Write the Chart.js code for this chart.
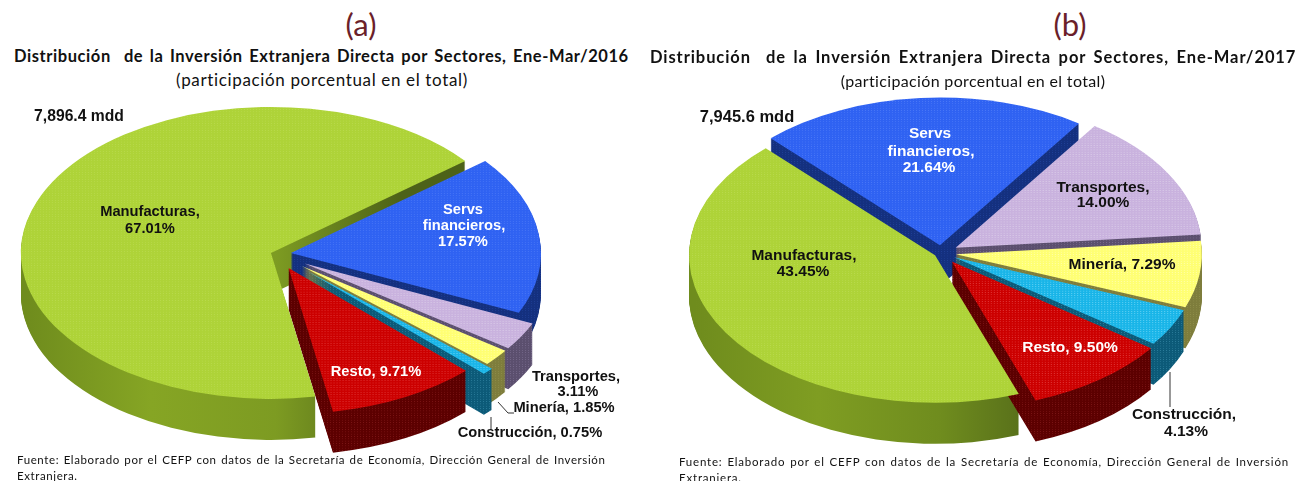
<!DOCTYPE html>
<html lang="es">
<head>
<meta charset="utf-8">
<title>Inversión Extranjera Directa por Sectores</title>
<script src="https://cdn.jsdelivr.net/npm/chart.js@4"></script>
<style>
    html, body { margin: 0; width: 1297px; height: 481px; overflow: hidden; background: #fff; }
    canvas { position: absolute; }
    div { position: absolute; white-space: nowrap; font-family: Lato, sans-serif; color: #111; }
    .panel { font-size: 31px; color: #6b1f2a; transform: translateX(-50%); }
    .title { font-weight: 700; font-size: 16.5px; }
    .sub { font-size: 17px; transform: translateX(-50%); }
    .note { font-size: 11.5px; line-height: 16px; }
</style>
</head>
<body>
<div class="panel" style="left:361px; top:5px">(a)</div>
<div class="title" style="left:14px; top:46px; letter-spacing:0.57px; word-spacing:2px">Distribución&nbsp; de la Inversión Extranjera Directa por Sectores, Ene-Mar/2016</div>
<div class="sub" style="left:322px; top:69px; letter-spacing:0.65px">(participación porcentual en el total)</div>
<canvas id="pieA" width="800" height="560" style="left:-124px; top:-26px"></canvas>
<div class="note" style="left:17px; top:452px; letter-spacing:0.6px; word-spacing:1px">Fuente: Elaborado por el CEFP con datos de la Secretaría de Economía, Dirección General de Inversión<br>Extranjera.</div>

<div class="panel" style="left:1070px; top:5px">(b)</div>
<div class="title" style="left:650px; top:47px; letter-spacing:0.92px; word-spacing:2.6px">Distribución&nbsp; de la Inversión Extranjera Directa por Sectores, Ene-Mar/2017</div>
<div class="sub" style="left:973px; top:71px; font-size:16px; letter-spacing:0.35px">(participación porcentual en el total)</div>
<canvas id="pieB" width="800" height="560" style="left:541px; top:-27px"></canvas>
<div class="note" style="left:679px; top:454px; letter-spacing:0.8px; word-spacing:1.1px">Fuente: Elaborado por el CEFP con datos de la Secretaría de Economía, Dirección General de Inversión<br>Extranjera.</div>

<script>
const sectors2016 = ['Servs financieros', 'Transportes', 'Minería', 'Construcción', 'Resto', 'Manufacturas'];
const shares2016 = [17.57, 3.11, 1.85, 0.75, 9.71, 67.01];
const sectors2017 = ['Servs financieros', 'Transportes', 'Minería', 'Construcción', 'Resto', 'Manufacturas'];
const shares2017 = [21.64, 14.00, 7.29, 4.13, 9.50, 43.45];

// same order as the sectors
const topColors = ['#2f62f2', '#c9b2de', '#ffff73', '#19b5e8', '#cc0000', '#aed338'];
const dotColors = ['#4a78f7', '#ddd0ea', '#ffffb0', '#6fd6f5', '#e23a3a', '#b9da4d'];
const wallDots = ['#1f3f96', '#776a8c', '#8f8e4a', '#2a7b99', '#7a1414'];
const wallColorsA = ['#14307f', '#5b4f6e', '#7e7d3c', '#0c5a78', '#5c0000', ['#6f8c1d', '#86a524', '#7d9b22', '#4d6218', '#4d6218']];
const wallColorsB = ['#14307f', '#5b4f6e', '#7e7d3c', '#0c5a78', '#5c0000', ['#6f8c1d', '#7f9d22', '#6f8c1e', '#4d6218', '#4d6218']];

function dotted(base, dot) {
    const tile = document.createElement('canvas');
    tile.width = 3;
    tile.height = 3;
    const c = tile.getContext('2d');
    c.fillStyle = base;
    c.fillRect(0, 0, 3, 3);
    c.fillStyle = dot;
    c.fillRect(1, 1, 1, 1);
    return c.createPattern(tile, 'repeat');
}

// squashes the round pie into an ellipse and adds the extruded side
const tiltPie = {
    id: 'tiltPie',
    beforeDatasetDraw(chart, args, opts) {
        const ctx = chart.ctx;
        const arcs = chart.getDatasetMeta(args.index).data;
        const cx = arcs[0].x;
        const cy = arcs[0].y;
        const shift = i => {
            const mid = (arcs[i].startAngle + arcs[i].endAngle) / 2;
            return [Math.cos(mid) * opts.explode[i], Math.sin(mid) * opts.explode[i]];
        };

        ctx.save();
        ctx.translate(cx, cy);
        ctx.scale(1, opts.squash);
        ctx.translate(-cx, -cy);

        opts.wallOrder.forEach(i => {
            const arc = arcs[i];
            const [dx, dy] = shift(i);
            let fill = opts.walls[i];
            if (Array.isArray(fill)) {
                const grad = ctx.createLinearGradient(cx - arc.outerRadius, 0, cx + arc.outerRadius, 0);
                fill.forEach((c, n) => grad.addColorStop(n / (fill.length - 1), c));
                fill = grad;
            } else {
                fill = dotted(fill, wallDots[i]);
            }
            ctx.fillStyle = fill;
            for (let d = opts.depth; d >= 1; d--) {
                const y = arc.y + dy + d / opts.squash;
                ctx.beginPath();
                ctx.moveTo(arc.x + dx, y);
                ctx.arc(arc.x + dx, y, arc.outerRadius, arc.startAngle, arc.endAngle);
                ctx.closePath();
                ctx.fill();
            }
        });

        arcs.forEach((arc, i) => {
            const [dx, dy] = shift(i);
            ctx.save();
            ctx.translate(dx, dy);
            arc.draw(ctx);
            ctx.restore();
        });
        ctx.restore();
        return false;
    },
    afterDraw(chart, args, opts) {
        const ctx = chart.ctx;
        const left = chart.canvas.offsetLeft;
        const top = chart.canvas.offsetTop;
        ctx.save();
        ctx.strokeStyle = '#333';
        ctx.lineWidth = 1;
        opts.leaders.forEach(pts => {
            ctx.beginPath();
            pts.forEach(([x, y], n) => n ? ctx.lineTo(x - left, y - top) : ctx.moveTo(x - left, y - top));
            ctx.stroke();
        });
        ctx.textAlign = 'center';
        ctx.textBaseline = 'middle';
        opts.labels.forEach(([text, x, y, color], n) => {
            // the first label is the total, set a little larger
            const size = n === 0 ? opts.labelSize + 1 : opts.labelSize;
            ctx.font = 'bold ' + size + 'px "Liberation Sans", Arial, sans-serif';
            ctx.fillStyle = color;
            ctx.fillText(text, x - left, y - top);
        });
        ctx.restore();
    }
};

function drawPie(id, labels, values, rotation, radius, pieOpts) {
    new Chart(document.getElementById(id), {
        type: 'pie',
        data: {
            labels: labels,
            datasets: [{
                data: values,
                backgroundColor: topColors.map((c, i) => dotted(c, dotColors[i])),
                borderWidth: 0
            }]
        },
        options: {
            responsive: false,
            animation: false,
            events: [],
            rotation: rotation,
            radius: radius,
            plugins: {
                legend: { display: false },
                tooltip: { enabled: false },
                tiltPie: pieOpts
            }
        },
        plugins: [tiltPie]
    });
}

drawPie('pieA', sectors2016, shares2016, 51, 250, {
    squash: 0.584,
    depth: 41,
    explode: [15, 33, 33, 42, 27, 5.4],
    wallOrder: [5, 0, 1, 2, 3, 4],
    walls: wallColorsA,
    labelSize: 14.7,
    leaders: [
        [[498, 402], [508, 413], [514, 413]],
        [[491, 417], [491, 430]]
    ],
    labels: [
        ['7,896.4 mdd', 79, 117, '#111'],
        ['Manufacturas,', 150, 212, '#111'],
        ['67.01%', 150, 229, '#111'],
        ['Servs', 463, 210, '#fff'],
        ['financieros,', 464, 226, '#fff'],
        ['17.57%', 463, 242, '#fff'],
        ['Resto, 9.71%', 376, 372, '#fff'],
        ['Transportes,', 576, 377, '#111'],
        ['3.11%', 578, 392, '#111'],
        ['Minería, 1.85%', 564, 408, '#111'],
        ['Construcción, 0.75%', 530, 433, '#111']
    ]
});

drawPie('pieB', sectors2017, shares2017, -43.5, 246, {
    squash: 0.6,
    depth: 41,
    explode: [13, 17, 15, 15, 18, 7],
    wallOrder: [0, 1, 2, 5, 3, 4],
    walls: wallColorsB,
    labelSize: 15.5,
    leaders: [
        [[1170, 372], [1170, 407]]
    ],
    labels: [
        ['7,945.6 mdd', 747, 117, '#111'],
        ['Servs', 930, 134, '#fff'],
        ['financieros,', 931, 152, '#fff'],
        ['21.64%', 929, 168, '#fff'],
        ['Transportes,', 1103, 188, '#111'],
        ['14.00%', 1103, 203, '#111'],
        ['Manufacturas,', 804, 256, '#111'],
        ['43.45%', 803, 272, '#111'],
        ['Minería, 7.29%', 1122, 265, '#111'],
        ['Resto, 9.50%', 1070, 348, '#fff'],
        ['Construcción,', 1184, 415, '#111'],
        ['4.13%', 1186, 432, '#111']
    ]
});
</script>
</body>
</html>
